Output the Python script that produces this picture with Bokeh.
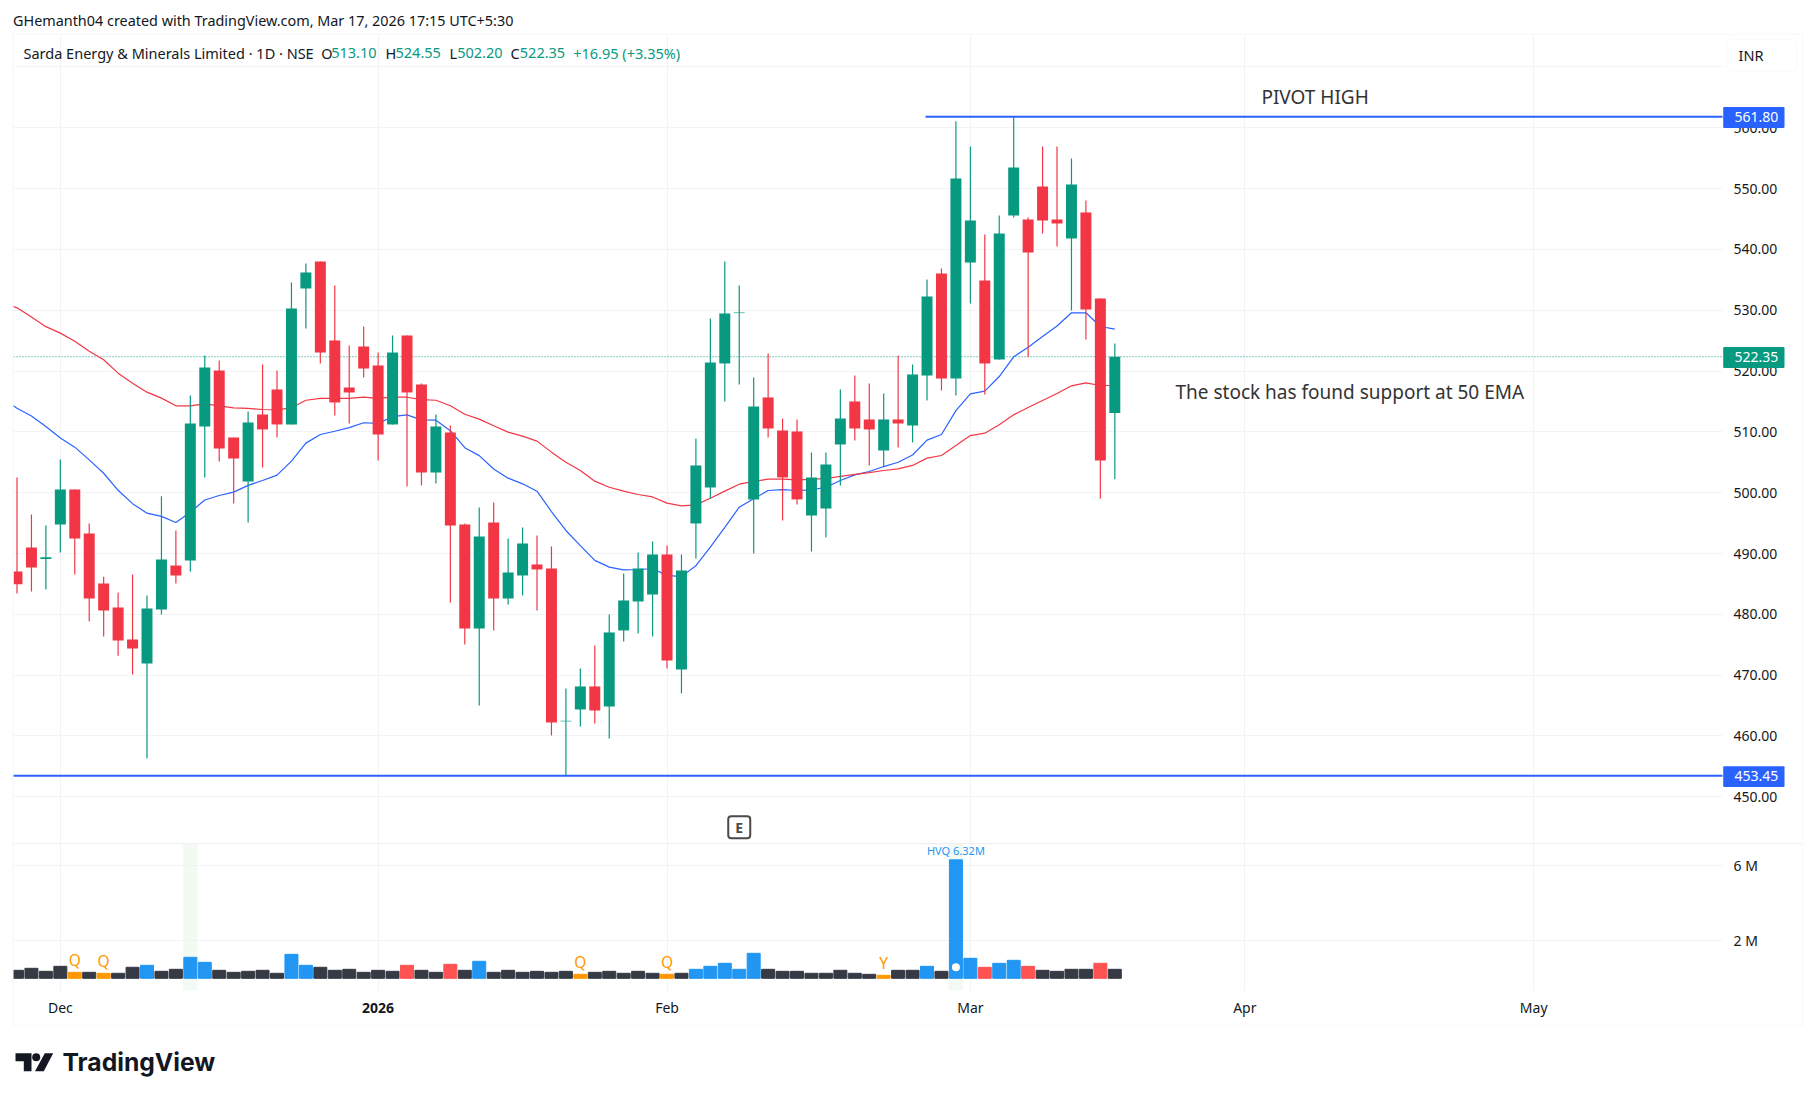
from bokeh.core.properties import value
from bokeh.embed import file_html
from bokeh.layouts import column
from bokeh.models import (
    BoxAnnotation,
    ColumnDataSource,
    FixedTicker,
    Label,
    NumeralTickFormatter,
    PolyAnnotation,
    Range1d,
    Span,
)
from bokeh.plotting import figure
from bokeh.resources import INLINE

# daily candles, one entry per session
opens = [
    487.05, 491.0, 489.1, 494.77, 500.53, 493.3, 485.07, 481.13, 475.87, 471.92,
    480.8, 488.03, 488.86, 510.89, 520.09, 509.08, 501.84, 512.86, 516.97, 511.22,
    533.58, 538.02, 525.03, 517.3, 524.04, 520.92, 511.22, 525.85, 517.79, 503.32,
    509.9, 494.77, 477.67, 495.1, 482.6, 486.39, 488.2, 487.54, 462.4, 464.36,
    468.14, 464.85, 477.35, 482.11, 483.26, 489.84, 470.93, 494.94, 500.86, 521.25,
    529.53, 498.9, 515.66, 510.23, 510.07, 496.25, 497.4, 507.93, 515.0, 512.04,
    506.94, 512.04, 511.05, 519.27, 536.05, 518.78, 537.85, 534.89, 521.91, 545.58,
    544.92, 550.35, 544.92, 541.8, 546.08, 531.93, 513.10,
]
closes = [
    484.96, 487.7, 489.4, 500.53, 492.47, 482.6, 480.63, 475.7, 474.39, 480.96,
    489.02, 486.39, 511.38, 520.59, 507.27, 505.63, 511.55, 510.4, 511.22, 530.29,
    536.21, 523.05, 514.84, 516.48, 520.42, 509.57, 523.05, 516.48, 503.32, 510.89,
    494.61, 477.67, 492.8, 482.6, 486.88, 491.65, 487.38, 462.22, 462.5, 468.14,
    464.19, 477.02, 482.28, 487.54, 489.84, 472.41, 487.21, 504.48, 521.41, 529.47,
    529.63, 514.18, 510.56, 502.5, 498.9, 502.5, 504.64, 512.2, 510.56, 510.4,
    512.04, 511.38, 519.44, 532.26, 518.78, 551.67, 544.76, 521.25, 542.62, 553.47,
    539.5, 544.76, 544.27, 550.68, 530.13, 505.3, 522.35,
]
highs = [
    502.5, 496.4, 494.6, 505.46, 500.53, 494.94, 486.2, 483.6, 486.55, 483.1,
    499.4, 493.79, 515.98, 522.56, 521.74, 509.08, 513.35, 521.08, 520.09, 534.57,
    537.69, 538.02, 534.07, 524.2, 527.33, 523.05, 525.85, 525.85, 517.96, 512.86,
    511.05, 494.94, 497.57, 498.39, 492.47, 494.28, 492.97, 491.16, 467.81, 471.1,
    474.88, 479.98, 486.72, 490.17, 491.98, 491.32, 489.84, 508.92, 528.65, 538.02,
    534.07, 518.95, 522.89, 512.2, 512.04, 506.61, 506.61, 516.97, 519.27, 517.96,
    516.31, 522.56, 521.08, 535.06, 536.87, 561.04, 556.93, 542.46, 545.58, 561.8,
    545.25, 556.93, 556.93, 554.95, 548.05, 531.93, 524.55,
]
lows = [
    483.43, 483.76, 484.1, 490.17, 486.55, 478.83, 476.36, 473.2, 470.11, 456.3,
    479.98, 485.07, 487.05, 502.5, 505.13, 498.23, 495.1, 504.15, 509.08, 511.22,
    527.0, 521.25, 512.7, 511.38, 518.94, 505.3, 511.2, 501.02, 501.19, 501.52,
    481.95, 475.04, 465.0, 477.35, 481.62, 483.1, 480.63, 460.08, 453.45, 461.56,
    462.05, 459.59, 475.54, 476.85, 476.36, 471.1, 466.99, 489.18, 499.05, 515.0,
    517.79, 490.0, 509.08, 495.43, 498.06, 490.33, 492.64, 501.19, 508.59, 504.48,
    504.2, 507.44, 508.26, 515.16, 516.81, 515.99, 531.11, 516.15, 521.91, 545.25,
    522.29, 542.62, 540.48, 529.96, 525.19, 499.05, 502.2,
]
# moving averages start one session before the first visible candle
ema20 = [
    515.5, 513.9, 512.6, 510.9, 509.0, 507.49, 505.4, 503.2, 500.4, 498.2, 496.64,
    496.1, 495.1, 496.8, 498.8, 499.54, 500.1, 501.2, 502.0, 502.9, 505.2,
    508.15, 509.57, 510.1, 510.7, 511.5, 511.4, 512.5, 512.8, 511.98, 511.93,
    510.2, 507.4, 506.1, 503.9, 502.39, 501.46, 500.25, 496.9, 493.79, 491.3,
    488.87, 487.76, 487.3, 487.37, 487.5, 486.4, 486.2, 488.0, 491.05, 494.3,
    497.62, 499.0, 500.36, 500.5, 500.36, 500.47, 500.9, 502.0, 502.94, 503.49,
    504.3, 505.0, 506.2, 508.64, 509.57, 513.5, 516.26, 516.7, 519.1, 522.34,
    523.93, 525.7, 527.4, 529.58, 529.58, 527.33, 526.9,
]
ema50 = [
    531.2, 530.4, 528.9, 527.3, 526.24, 524.9, 523.27, 521.85, 519.66, 518.0, 516.53,
    515.55, 514.29, 514.29, 514.6, 514.29, 513.96, 513.85, 513.68, 513.63, 513.96,
    515.2, 515.5, 515.5, 515.5, 515.7, 515.5, 515.7, 515.7, 515.3, 515.2,
    514.29, 512.9, 512.1, 511.0, 509.96, 509.3, 508.48, 506.67, 505.0, 503.65,
    501.9, 500.9, 500.26, 499.7, 499.3, 498.28, 497.84, 498.0, 499.1, 500.26,
    501.4, 501.85, 502.23, 502.23, 502.12, 502.18, 502.34, 502.67, 503.0, 503.3,
    503.65, 503.93, 504.48, 505.68, 506.12, 507.76, 509.4, 509.79, 511.16, 512.8,
    514.0, 515.17, 516.3, 517.57, 518.07, 517.63, 517.63,
]
# volume in millions, with the indicator's class for each bar
volumes = [
    0.427, 0.533, 0.373, 0.64, 0.32, 0.32, 0.267, 0.267, 0.587, 0.693,
    0.373, 0.48, 1.12, 0.853, 0.427, 0.32, 0.373, 0.427, 0.267, 1.28,
    0.693, 0.587, 0.427, 0.48, 0.32, 0.427, 0.373, 0.693, 0.427, 0.32,
    0.747, 0.427, 0.907, 0.32, 0.427, 0.32, 0.373, 0.32, 0.373, 0.213,
    0.32, 0.373, 0.267, 0.373, 0.267, 0.213, 0.267, 0.48, 0.64, 0.8,
    0.48, 1.333, 0.48, 0.373, 0.373, 0.267, 0.267, 0.427, 0.267, 0.213,
    0.16, 0.427, 0.427, 0.64, 0.373, 6.32, 1.067, 0.587, 0.8, 0.96,
    0.64, 0.427, 0.373, 0.48, 0.48, 0.8, 0.48,
]
high_volume_bars = [9, 12, 13, 19, 20, 32, 47, 48, 49, 50, 51, 63, 65, 66, 68, 69]
red_volume_bars = [27, 30, 67, 70, 75]
lowest_volume_bars = [4, 6, 39, 45, 60]
lowest_volume_marks = ["Q", "Q", "Q", "Q", "Y"]
highlighted_bars = [12, 65]

price_ticks = [450, 460, 470, 480, 490, 500, 510, 520, 530, 540, 550, 560]
price_grid = price_ticks + [570]
volume_ticks = [2, 6]
volume_tick_labels = {2: "2 M", 6: "6 M"}
month_ticks = [3, 25, 45, 66, 85, 105]
month_labels = ["Dec", "", "Feb", "Mar", "Apr", "May"]
year_tick = 25
year_label = "2026"

pivot_high = 561.80
pivot_low = 453.45
last_close = 522.35
pivot_start = 62.9
earnings_bar = 50
highest_volume_bar = 65

GREEN = "#089981"
RED = "#f23645"
BLUE = "#2962ff"
GRID = "#f2f3f5"
BORDER = "#f0f1f4"
TEXT = "#131722"
FONT = "Noto Sans"

X_RANGE = Range1d(-0.242, 118.07)
sessions = list(range(len(closes)))
ema_sessions = [-1] + sessions


def canvas_label(fig, x, y, text, size=14.5, color=TEXT, font=FONT, style="normal"):
    label = Label(
        x=x,
        y=y,
        x_units="canvas",
        y_units="canvas",
        text=text,
        text_font=font,
        text_font_size=f"{size}px",
        text_font_style=style,
        text_color=color,
        text_baseline="middle",
    )
    fig.add_layout(label)


def canvas_box(fig, left, right, top, bottom, **kwargs):
    fig.add_layout(
        BoxAnnotation(
            left=left,
            right=right,
            top=top,
            bottom=bottom,
            left_units="canvas",
            right_units="canvas",
            top_units="canvas",
            bottom_units="canvas",
            **kwargs,
        )
    )


def price_tag(fig, price, color):
    # box is 21px tall, 1.73 price units either side
    fig.add_layout(
        BoxAnnotation(
            left=1722.7,
            right=1784,
            top=price + 1.6,
            bottom=price - 1.85,
            left_units="canvas",
            right_units="canvas",
            fill_color=color,
            fill_alpha=1,
            line_color=None,
            border_radius=1,
        )
    )
    fig.add_layout(
        Label(
            x=1734,
            y=price,
            x_units="canvas",
            y_units="data",
            text=f"{price:.2f}",
            text_font=FONT,
            text_font_size="14px",
            text_color="white",
            text_baseline="middle",
        )
    )


def style_pane(fig):
    fig.outline_line_color = None
    fig.xgrid.ticker = FixedTicker(ticks=month_ticks)
    fig.xgrid.grid_line_color = GRID
    fig.xgrid.grid_line_width = 1
    fig.ygrid.grid_line_color = GRID
    fig.ygrid.grid_line_width = 1
    fig.yaxis.axis_line_color = None
    fig.yaxis.major_tick_line_color = None
    fig.yaxis.minor_tick_line_color = None
    fig.yaxis.major_tick_out = 0
    fig.yaxis.major_label_standoff = 11
    fig.yaxis.major_label_text_font = FONT
    fig.yaxis.major_label_text_font_size = "14px"
    fig.yaxis.major_label_text_color = TEXT


def price_pane():
    p = figure(
        width=1815,
        height=843,
        x_range=X_RANGE,
        y_range=Range1d(442.32, 575.34),
        y_axis_location="right",
        min_border_left=13,
        min_border_right=93,
        min_border_top=34,
        min_border_bottom=0,
        toolbar_location=None,
        output_backend="svg",
    )
    p.xaxis.visible = False
    style_pane(p)
    p.ygrid.ticker = FixedTicker(ticks=price_grid)
    p.yaxis.ticker = FixedTicker(ticks=price_ticks)
    p.yaxis.formatter = NumeralTickFormatter(format="0.00")

    p.add_layout(
        Span(
            location=last_close,
            dimension="width",
            line_color=GREEN,
            line_width=1.2,
            line_dash="1 2",
            level="underlay",
        )
    )

    p.line(ema_sessions, ema20, line_color="#2962ff", line_width=1.2)
    p.line(ema_sessions, ema50, line_color="#f23645", line_width=1.2)

    colors = [GREEN if c >= o else RED for o, c in zip(opens, closes)]
    source = ColumnDataSource(
        data=dict(x=sessions, o=opens, c=closes, h=highs, l=lows, color=colors)
    )
    p.segment("x", "h", "x", "l", source=source, line_color="color", line_width=1.2)
    p.vbar("x", 0.76, "o", "c", source=source, fill_color="color", line_color=None)

    p.segment(
        [pivot_start, -1],
        [pivot_high, pivot_low],
        [119, 119],
        [pivot_high, pivot_low],
        line_color=BLUE,
        line_width=2,
    )

    p.rect(
        [earnings_bar],
        [445],
        width=22,
        height=22,
        width_units="screen",
        height_units="screen",
        fill_color="white",
        line_color="#4a4a4a",
        line_width=2,
        border_radius=3,
    )
    p.text(
        [earnings_bar],
        [445],
        text=["E"],
        text_font=value(FONT),
        text_font_size="14px",
        text_font_style="bold",
        text_color="#4a4a4a",
        text_align="center",
        text_baseline="middle",
    )

    for x, y, text in [
        (86.15, 565.0, "PIVOT HIGH"),
        (80.2, 516.5, "The stock has found support at 50 EMA"),
    ]:
        p.add_layout(
            Label(
                x=x,
                y=y,
                text=text,
                text_font=FONT,
                text_font_size="19px",
                text_color="#333333",
                text_baseline="middle",
            )
        )

    canvas_label(p, 23, 52.7, "Sarda Energy & Minerals Limited · 1D · NSE")
    for x, text, color in [
        (320.7, "O", TEXT),
        (330.7, "513.10", GREEN),
        (385, "H", TEXT),
        (395, "524.55", GREEN),
        (449, "L", TEXT),
        (456.7, "502.20", GREEN),
        (510, "C", TEXT),
        (519.3, "522.35", GREEN),
        (572.7, "+16.95 (+3.35%)", GREEN),
    ]:
        canvas_label(p, x, 52.7, text, color=color)
    return p


def volume_pane():
    v = figure(
        width=1815,
        height=249,
        x_range=X_RANGE,
        y_range=Range1d(-0.65, 7.19),
        y_axis_location="right",
        min_border_left=13,
        min_border_right=93,
        min_border_top=0,
        min_border_bottom=102,
        toolbar_location=None,
        output_backend="svg",
    )
    style_pane(v)
    v.ygrid.ticker = FixedTicker(ticks=volume_ticks)
    v.yaxis.ticker = FixedTicker(ticks=volume_ticks)
    v.yaxis.major_label_overrides = volume_tick_labels

    v.xaxis.ticker = FixedTicker(ticks=month_ticks)
    v.xaxis.major_label_overrides = dict(zip(month_ticks, month_labels))
    v.xaxis.axis_line_color = None
    v.xaxis.major_tick_line_color = None
    v.xaxis.minor_tick_line_color = None
    v.xaxis.major_tick_out = 0
    v.xaxis.major_label_standoff = 7
    v.xaxis.major_label_text_font = FONT
    v.xaxis.major_label_text_font_size = "14px"
    v.xaxis.major_label_text_color = TEXT

    v.vbar(
        highlighted_bars,
        1.0,
        bottom=-0.65,
        top=7.19,
        fill_color="#e8f5e9",
        fill_alpha=0.55,
        line_color=None,
    )

    colors = []
    for i in sessions:
        if i in high_volume_bars:
            colors.append("#2196f3")
        elif i in red_volume_bars:
            colors.append("#ff5252")
        elif i in lowest_volume_bars:
            colors.append("#ff9800")
        else:
            colors.append("#363a45")
    v.vbar(sessions, 0.9, volumes, color=colors)

    v.text(
        lowest_volume_bars,
        [volumes[i] for i in lowest_volume_bars],
        text=lowest_volume_marks,
        y_offset=-1,
        text_font=value(FONT),
        text_font_size="15.5px",
        text_color="#ff9800",
        text_align="center",
        text_baseline="bottom",
    )
    v.text(
        [highest_volume_bar],
        [volumes[highest_volume_bar]],
        text=[f"HVQ {volumes[highest_volume_bar]:.2f}M"],
        y_offset=-2,
        text_font=value(FONT),
        text_font_size="11px",
        text_color="#2196f3",
        text_align="center",
        text_baseline="bottom",
    )
    v.scatter(
        [highest_volume_bar],
        [0.587],
        size=8,
        fill_color="white",
        line_color=None,
    )
    return v


def page_overlay():
    # annotations get clipped to a figure's frame, so everything outside the
    # panes sits on one transparent figure whose frame is the whole page
    o = figure(
        width=1815,
        height=1092,
        x_range=Range1d(-1.1423, 124.51),
        y_range=Range1d(401.39, 580.93),
        x_axis_location=None,
        y_axis_location=None,
        min_border=0,
        toolbar_location=None,
        output_backend="svg",
        background_fill_color=None,
        border_fill_color=None,
        outline_line_color=None,
        styles={"position": "absolute", "top": "0px", "left": "0px"},
    )
    o.grid.visible = False

    # chart frame and the line between the panes
    canvas_box(
        o, 12.5, 1802, 33.5, 1025, fill_color=None, line_color=BORDER, line_width=2
    )
    canvas_box(
        o, 13, 1801, 843, 843.5, fill_color="#e0e3eb", line_color="#e0e3eb", line_width=1
    )

    price_tag(o, pivot_high, BLUE)
    price_tag(o, last_close, GREEN)
    price_tag(o, pivot_low, BLUE)

    # currency button
    canvas_box(
        o,
        1726.7,
        1796.7,
        38.7,
        71,
        fill_color="white",
        line_color=BORDER,
        line_width=1.5,
        border_radius=6,
    )
    canvas_label(o, 1738, 54.7, "INR")

    canvas_label(
        o, 12.5, 19.7, "GHemanth04 created with TradingView.com, Mar 17, 2026 17:15 UTC+5:30", size=14.4
    )

    o.add_layout(
        Label(
            x=year_tick,
            y=1007.7,
            y_units="canvas",
            text=year_label,
            text_font=FONT,
            text_font_size="14px",
            text_font_style="bold",
            text_color=TEXT,
            text_align="center",
            text_baseline="middle",
        )
    )

    # TradingView logo
    for xs, ys in [
        ([15, 31, 31, 23.3, 23.3, 15], [1052.7, 1052.7, 1070.7, 1070.7, 1060.7, 1060.7]),
        ([44.3, 52.7, 43.3, 34.5], [1052.7, 1052.7, 1070.7, 1070.7]),
    ]:
        o.add_layout(
            PolyAnnotation(
                xs=xs,
                ys=ys,
                xs_units="canvas",
                ys_units="canvas",
                fill_color=TEXT,
                fill_alpha=1,
                line_color=TEXT,
                line_width=0,
            )
        )
    canvas_box(
        o,
        31.7,
        39.7,
        1052.7,
        1060.7,
        fill_color=TEXT,
        fill_alpha=1,
        line_color=None,
        border_radius=4,
    )
    canvas_label(o, 62, 1061, "TradingView", size=24.7, font="Inter", style="bold")
    return o


p = [column(price_pane(), volume_pane(), spacing=0), page_overlay()]
open("out.html", "w").write(file_html(p, INLINE))
